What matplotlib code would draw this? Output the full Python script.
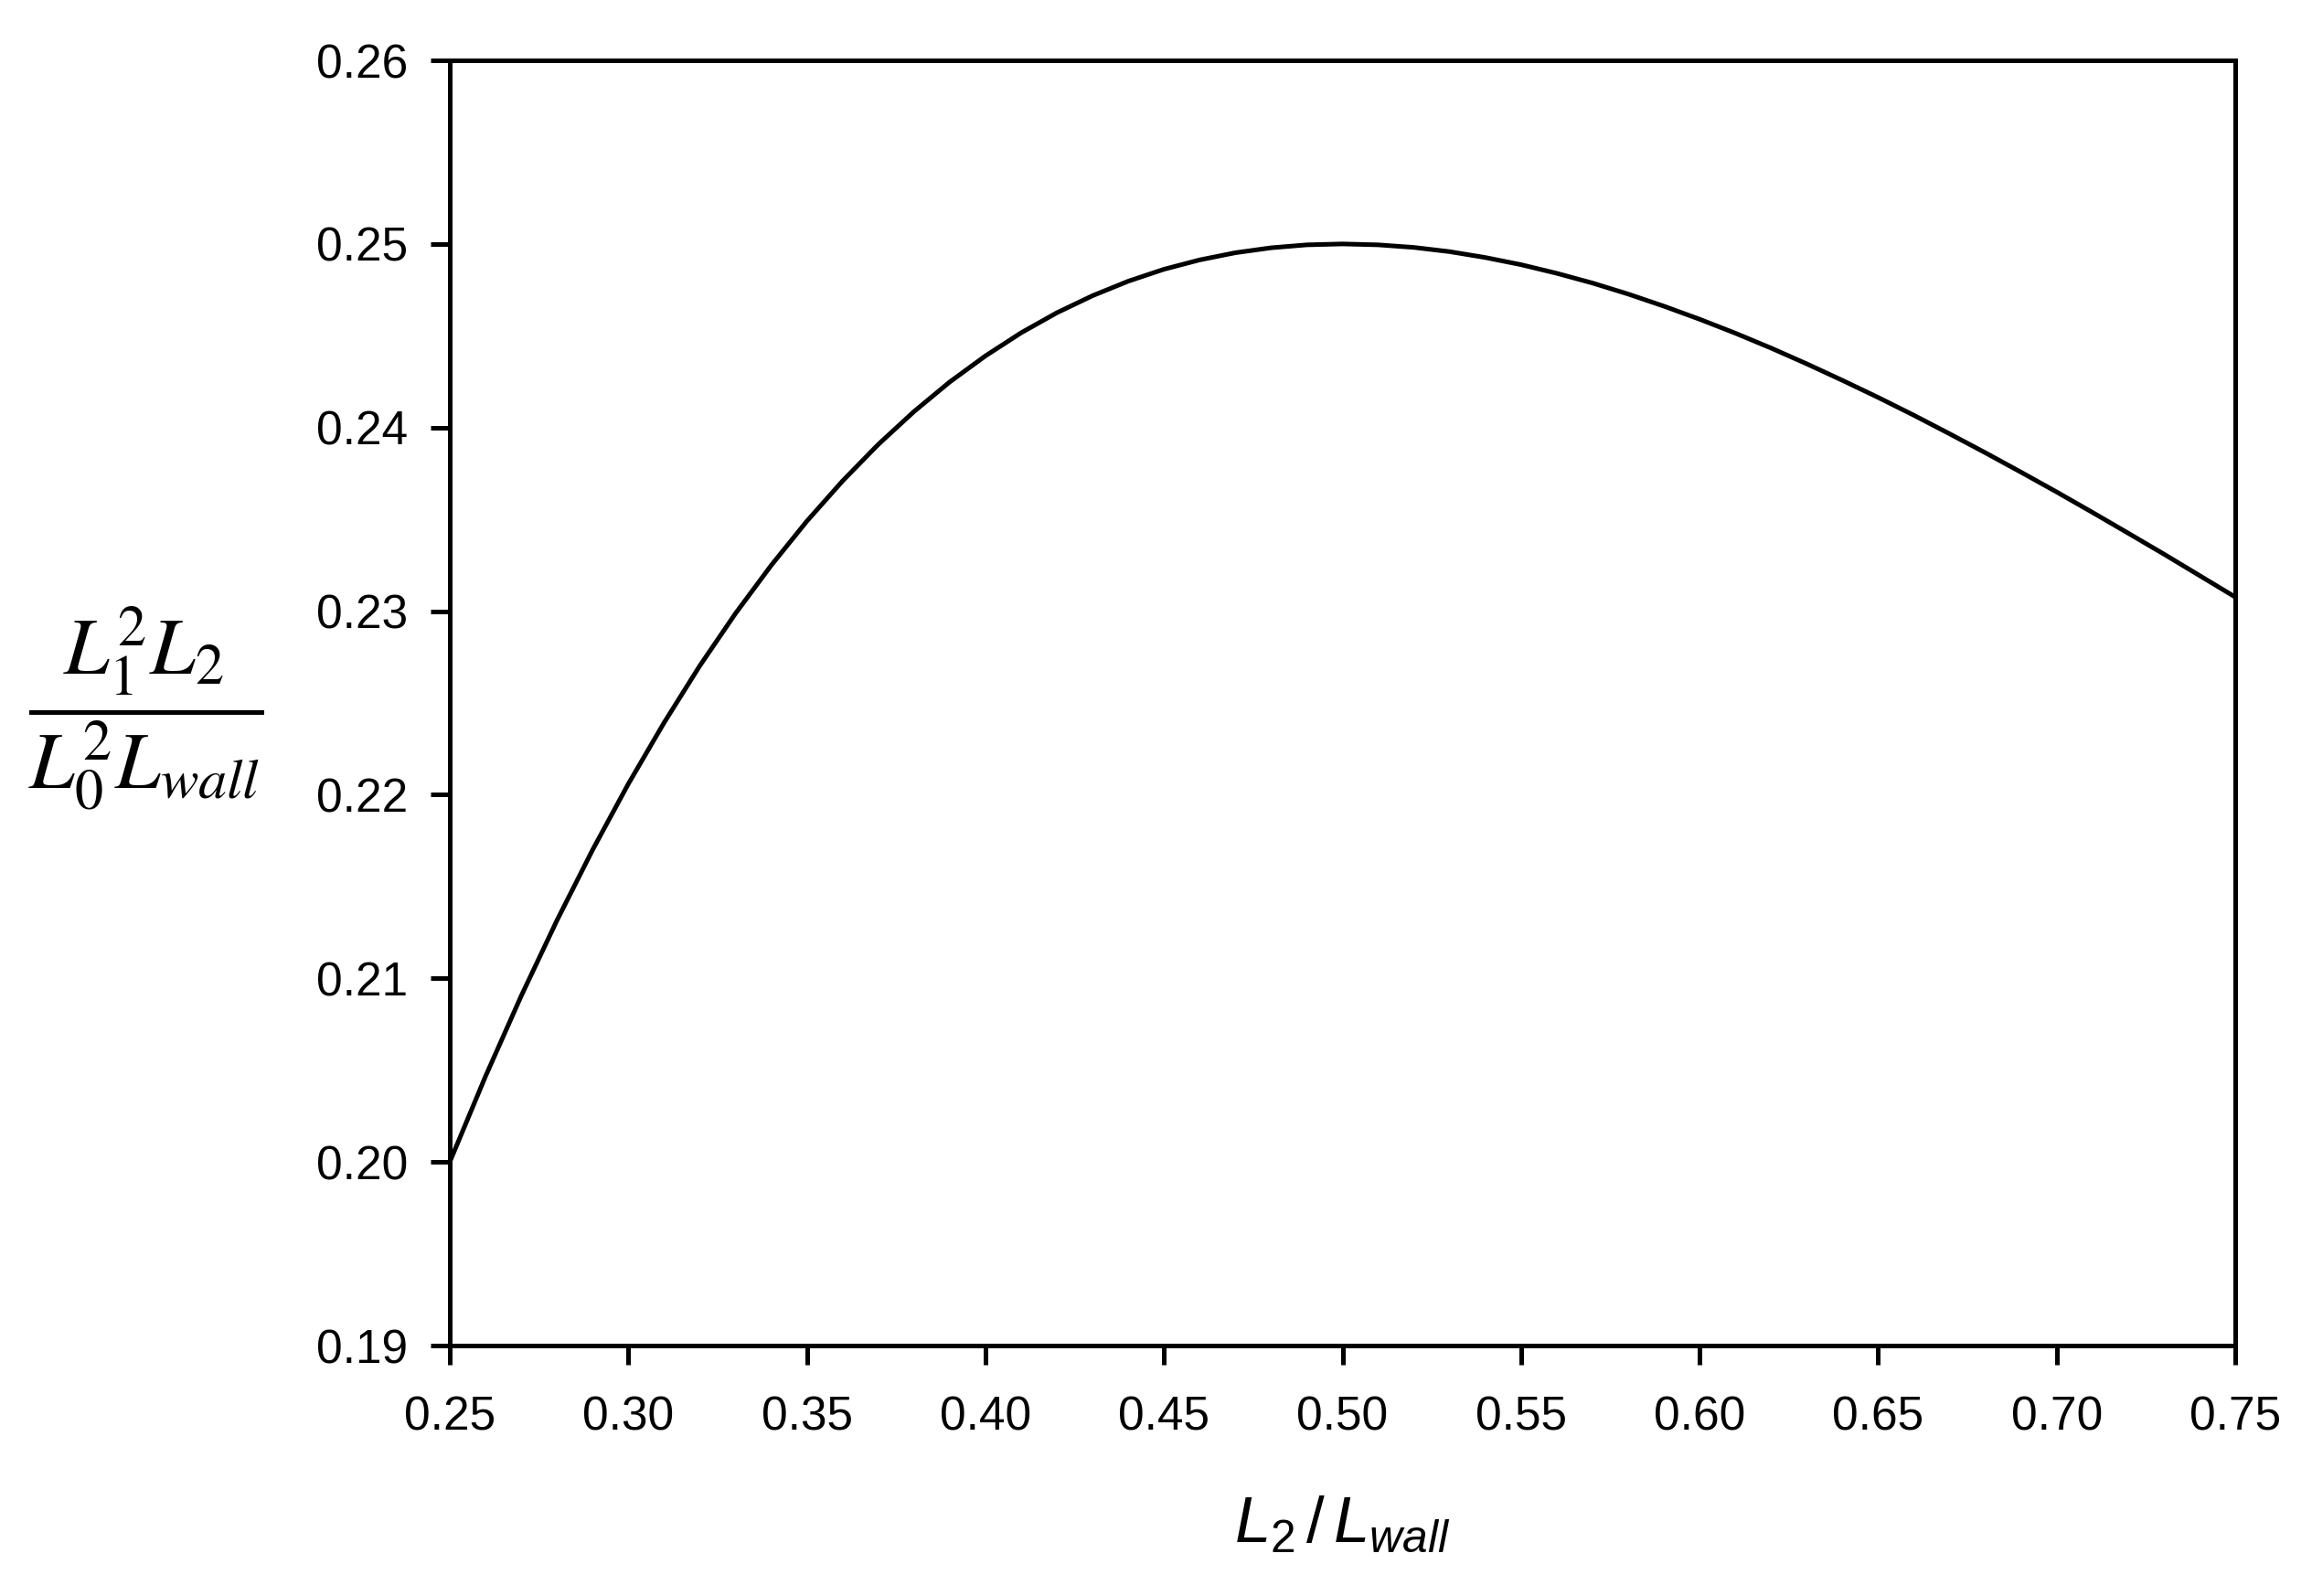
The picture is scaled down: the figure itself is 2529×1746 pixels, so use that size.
import matplotlib
matplotlib.use("Agg")
import matplotlib.pyplot as plt
from matplotlib.ticker import FormatStrFormatter

# Data
x_ratio = [0.25, 0.26, 0.27, 0.28, 0.29, 0.30, 0.31, 0.32, 0.33, 0.34,
           0.35, 0.36, 0.37, 0.38, 0.39, 0.40, 0.41, 0.42, 0.43, 0.44,
           0.45, 0.46, 0.47, 0.48, 0.49, 0.50, 0.51, 0.52, 0.53, 0.54,
           0.55, 0.56, 0.57, 0.58, 0.59, 0.60, 0.61, 0.62, 0.63, 0.64,
           0.65, 0.66, 0.67, 0.68, 0.69, 0.70, 0.71, 0.72, 0.73, 0.74, 0.75]
y_value = [0.20000, 0.20466, 0.20904, 0.21315, 0.21700, 0.22059, 0.22392, 0.22702, 0.22987, 0.23249,
           0.23490, 0.23709, 0.23908, 0.24087, 0.24248, 0.24390, 0.24516, 0.24625, 0.24718, 0.24797,
           0.24862, 0.24913, 0.24952, 0.24979, 0.24995, 0.25000, 0.24995, 0.24981, 0.24958, 0.24926,
           0.24887, 0.24840, 0.24787, 0.24727, 0.24661, 0.24590, 0.24514, 0.24433, 0.24347, 0.24257,
           0.24164, 0.24067, 0.23966, 0.23863, 0.23757, 0.23649, 0.23538, 0.23425, 0.23311, 0.23194, 0.23077]
x_ticks = [0.25, 0.30, 0.35, 0.40, 0.45, 0.50, 0.55, 0.60, 0.65, 0.70, 0.75]
y_ticks = [0.19, 0.20, 0.21, 0.22, 0.23, 0.24, 0.25, 0.26]

plt.rcParams['font.family'] = ['Liberation Sans', 'DejaVu Sans']
plt.rcParams['mathtext.fontset'] = 'custom'
plt.rcParams['mathtext.rm'] = 'Liberation Sans'
plt.rcParams['mathtext.it'] = 'Liberation Sans:italic'

W, H = 2529, 1746
fig = plt.figure(figsize=(W / 100, H / 100), dpi=100)
ax = fig.add_axes([492 / W, 1 - 1472 / H, (2445 - 492) / W, (1472 - 66) / H])

ax.plot(x_ratio, y_value, color='black', lw=3.6, solid_capstyle='butt',
        solid_joinstyle='round')

ax.set_xlim(0.25, 0.75)
ax.set_ylim(0.19, 0.26)
ax.set_xticks(x_ticks)
ax.set_yticks(y_ticks)
ax.xaxis.set_major_formatter(FormatStrFormatter('%.2f'))
ax.yaxis.set_major_formatter(FormatStrFormatter('%.2f'))

for s in ax.spines.values():
    s.set_linewidth(3.6)
    s.set_color('black')
ax.tick_params(axis='both', direction='out', length=15, width=3.6,
               labelsize=37, colors='black', top=False, right=False)
ax.tick_params(axis='x', pad=24)
ax.tick_params(axis='y', pad=18)

ax.set_xlabel(r'$L_2\,\mathit{/}\,L_{wall}$', fontsize=51, labelpad=44,
              math_fontfamily='custom')

fig.text(160 / W, 1 - 775 / H,
         r'$\dfrac{L_1^2 L_2}{L_0^2 L_{wall}}$',
         fontsize=64, ha='center', va='center', math_fontfamily='stix')

fig.savefig('out.png', dpi=100, facecolor='white')
